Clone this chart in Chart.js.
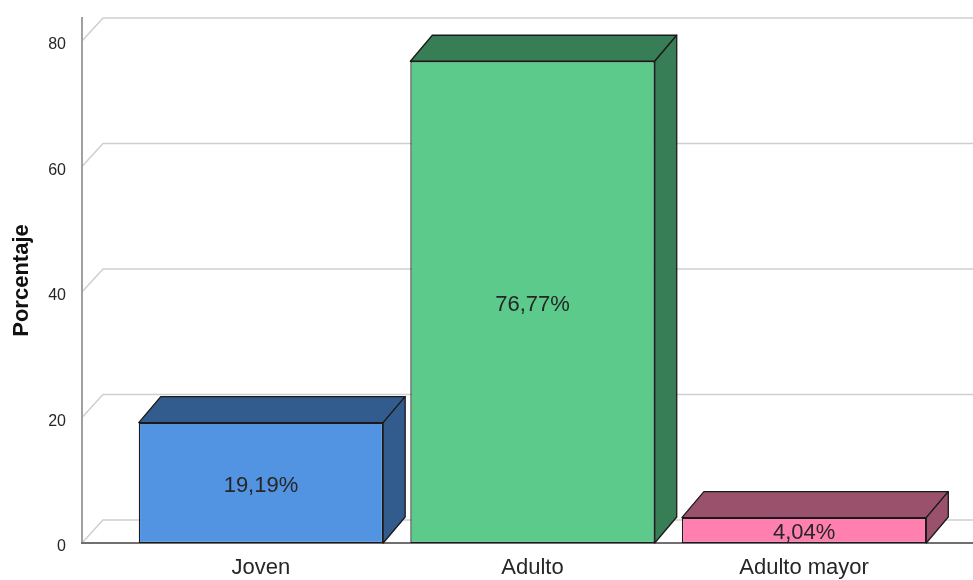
<!DOCTYPE html>
<html>
<head>
<meta charset="utf-8">
<script src="https://cdn.jsdelivr.net/npm/chart.js@4/dist/chart.umd.min.js"></script>
<style>
  html, body { margin: 0; padding: 0; background: #fff; }
  #wrap { width: 973px; height: 580px; }
</style>
</head>
<body>
<div id="wrap"><canvas id="chart" width="973" height="580"></canvas></div>
<script>
const categories = ["Joven", "Adulto", "Adulto mayor"];
const percentages = [19.19, 76.77, 4.04];
const yTicks = [0, 20, 40, 60, 80];
const frontColors = ["#5294e2", "#5bca8b", "#ff80ae"];
const darkColors = ["#335c8e", "#377d55", "#9a516b"];

const FONT = "'Liberation Sans', Arial, sans-serif";
// depth of the boxes and of the back wall
const DX = 22, DY = 26;
const GDX = 21, GDY = 23;

const box3d = {
  id: "box3d",
  beforeDatasetsDraw(chart) {
    const { ctx, chartArea: a, scales: { y } } = chart;
    ctx.save();
    // back wall grid lines
    ctx.strokeStyle = "#cfcfcf";
    ctx.lineWidth = 1.5;
    yTicks.forEach((v) => {
      const py = y.getPixelForValue(v);
      ctx.beginPath();
      ctx.moveTo(a.left, py);
      ctx.lineTo(a.left + GDX, py - GDY);
      ctx.lineTo(chart.width, py - GDY);
      ctx.stroke();
    });
    // y axis
    ctx.strokeStyle = "#a0a0a0";
    ctx.lineWidth = 2;
    ctx.beginPath();
    ctx.moveTo(a.left, a.bottom);
    ctx.lineTo(a.left, y.getPixelForValue(80) - GDY - 1);
    ctx.stroke();
    // x axis
    ctx.strokeStyle = "#707070";
    ctx.beginPath();
    ctx.moveTo(a.left - 1, a.bottom);
    ctx.lineTo(chart.width, a.bottom);
    ctx.stroke();
    ctx.restore();
  },
  afterDatasetsDraw(chart) {
    const { ctx } = chart;
    const meta = chart.getDatasetMeta(0);
    ctx.save();
    ctx.strokeStyle = "#1a1a1a";
    ctx.lineWidth = 1.3;
    ctx.lineJoin = "round";
    meta.data.forEach((bar, i) => {
      const l = bar.x - bar.width / 2, r = bar.x + bar.width / 2;
      const t = bar.y, b = bar.base;
      ctx.fillStyle = darkColors[i];
      // top face
      ctx.beginPath();
      ctx.moveTo(l, t);
      ctx.lineTo(l + DX, t - DY);
      ctx.lineTo(r + DX, t - DY);
      ctx.lineTo(r, t);
      ctx.closePath();
      ctx.fill();
      ctx.stroke();
      // side face
      ctx.beginPath();
      ctx.moveTo(r, t);
      ctx.lineTo(r + DX, t - DY);
      ctx.lineTo(r + DX, b - DY);
      ctx.lineTo(r, b);
      ctx.closePath();
      ctx.fill();
      ctx.stroke();
      // value label
      ctx.fillStyle = "#262626";
      ctx.font = "22px " + FONT;
      ctx.textAlign = "center";
      ctx.textBaseline = "middle";
      ctx.fillText(percentages[i].toFixed(2).replace(".", ",") + "%", bar.x, (t + b) / 2 + 3);
    });
    // axis title
    const a = chart.chartArea;
    ctx.translate(22, (a.bottom + chart.scales.y.getPixelForValue(80) - GDY) / 2);
    ctx.rotate(-Math.PI / 2);
    ctx.fillStyle = "#111";
    ctx.font = "bold 22px " + FONT;
    ctx.fillText("Porcentaje", 0, 0);
    ctx.restore();
  }
};

new Chart(document.getElementById("chart"), {
  type: "bar",
  data: {
    datasets: [{
      data: categories.map((c, i) => ({ x: i, y: percentages[i] })),
      backgroundColor: frontColors,
      borderColor: "#1a1a1a",
      borderWidth: 1.3,
      borderSkipped: false,
      barPercentage: 0.9,
      categoryPercentage: 1.0
    }]
  },
  options: {
    responsive: false,
    animation: false,
    devicePixelRatio: 1,
    layout: { padding: { top: 41, right: 22, left: 0, bottom: 0 } },
    plugins: { legend: { display: false }, tooltip: { enabled: false } },
    scales: {
      x: {
        type: "linear",
        offset: false,
        min: -0.659,
        max: 2.541,
        grid: { display: false, drawTicks: false },
        border: { display: false },
        afterBuildTicks: (s) => { s.ticks = categories.map((c, i) => ({ value: i })); },
        ticks: {
          callback: (v) => categories[v],
          font: { size: 22, family: FONT },
          color: "#262626",
          padding: 12,
          maxRotation: 0,
          autoSkip: false
        },
        afterFit: (s) => { s.height = 37; }
      },
      y: {
        min: 0,
        max: 80,
        grid: { display: false },
        border: { display: false },
        afterBuildTicks: (s) => { s.ticks = yTicks.map((v) => ({ value: v })); },
        ticks: {
          font: { size: 16, family: FONT },
          color: "#262626",
          padding: 8,
          labelOffset: 4
        },
        afterFit: (s) => { s.width = 82; }
      }
    }
  },
  plugins: [box3d]
});
</script>
</body>
</html>
